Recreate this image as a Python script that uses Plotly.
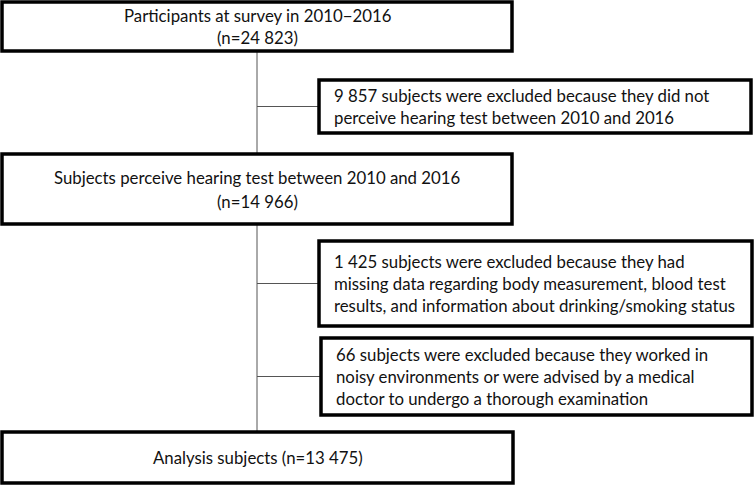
import plotly.graph_objects as go

W, H = 756, 486
FONT = 'Lato'
FONT_SIZE = 16.8
LINE_GAP = 22

# flowchart content
main_labels = [
    ['Participants at survey in 2010\u22122016', '(n=24 823)'],
    ['Subjects perceive hearing test between 2010 and 2016', '(n=14 966)'],
    ['Analysis subjects (n=13 475)'],
]
excluded_labels = [
    ['9 857 subjects were excluded because they did not',
     'perceive hearing test between 2010 and 2016'],
    ['1 425 subjects were excluded because they had',
     'missing data regarding body measurement, blood test',
     'results, and information about drinking/smoking status'],
    ['66 subjects were excluded because they worked in',
     'noisy environments or were advised by a medical',
     'doctor to undergo a thorough examination'],
]

# layout of boxes in pixels (x0, y0, x1, y1)
main_boxes = [(2, 2, 512, 51), (2, 154, 512, 224), (2, 432, 513, 483)]
excl_boxes = [(319, 80, 751, 133), (319, 241, 752, 326), (321, 338, 752, 415)]
SPINE_X = 257

fig = go.Figure()
shapes = []
annotations = []

# spine and branch connectors
shapes.append(dict(type='line', x0=SPINE_X, x1=SPINE_X, y0=51, y1=154,
                   line=dict(color='#555555', width=1)))
shapes.append(dict(type='line', x0=SPINE_X, x1=SPINE_X, y0=224, y1=432,
                   line=dict(color='#555555', width=1)))
for b in excl_boxes:
    ym = (b[1] + b[3]) / 2
    shapes.append(dict(type='line', x0=SPINE_X, x1=b[0], y0=ym, y1=ym,
                       line=dict(color='#555555', width=1)))


def box_text(box, lines, left=False):
    x0, y0, x1, y1 = box
    ym = (y0 + y1) / 2
    n = len(lines)
    gap = 24 if (n == 2 and not left and y0 > 100) else LINE_GAP
    for i, t in enumerate(lines):
        y = ym + (i - (n - 1) / 2) * gap
        annotations.append(dict(
            x=x0 + 13 if left else (x0 + x1) / 2, y=y, text=t,
            showarrow=False, xanchor='left' if left else 'center', yanchor='middle',
            font=dict(family=FONT, size=FONT_SIZE, color='#111111')))


for b, lab in zip(main_boxes, main_labels):
    shapes.append(dict(type='rect', x0=b[0], y0=b[1], x1=b[2], y1=b[3],
                       line=dict(color='black', width=3.5), fillcolor='white'))
    box_text(b, lab)

for b, lab in zip(excl_boxes, excluded_labels):
    shapes.append(dict(type='rect', x0=b[0], y0=b[1], x1=b[2], y1=b[3],
                       line=dict(color='black', width=3.5), fillcolor='white'))
    box_text(b, lab, left=True)

fig.update_layout(
    width=W, height=H,
    margin=dict(l=0, r=0, t=0, b=0),
    paper_bgcolor='white', plot_bgcolor='white',
    showlegend=False,
    xaxis=dict(range=[0, W], visible=False, fixedrange=True),
    yaxis=dict(range=[H, 0], visible=False, fixedrange=True),
    shapes=shapes,
    annotations=annotations,
)

fig.write_html('out.html', config={'displayModeBar': False},
               post_script="document.body.style.margin='0';")
